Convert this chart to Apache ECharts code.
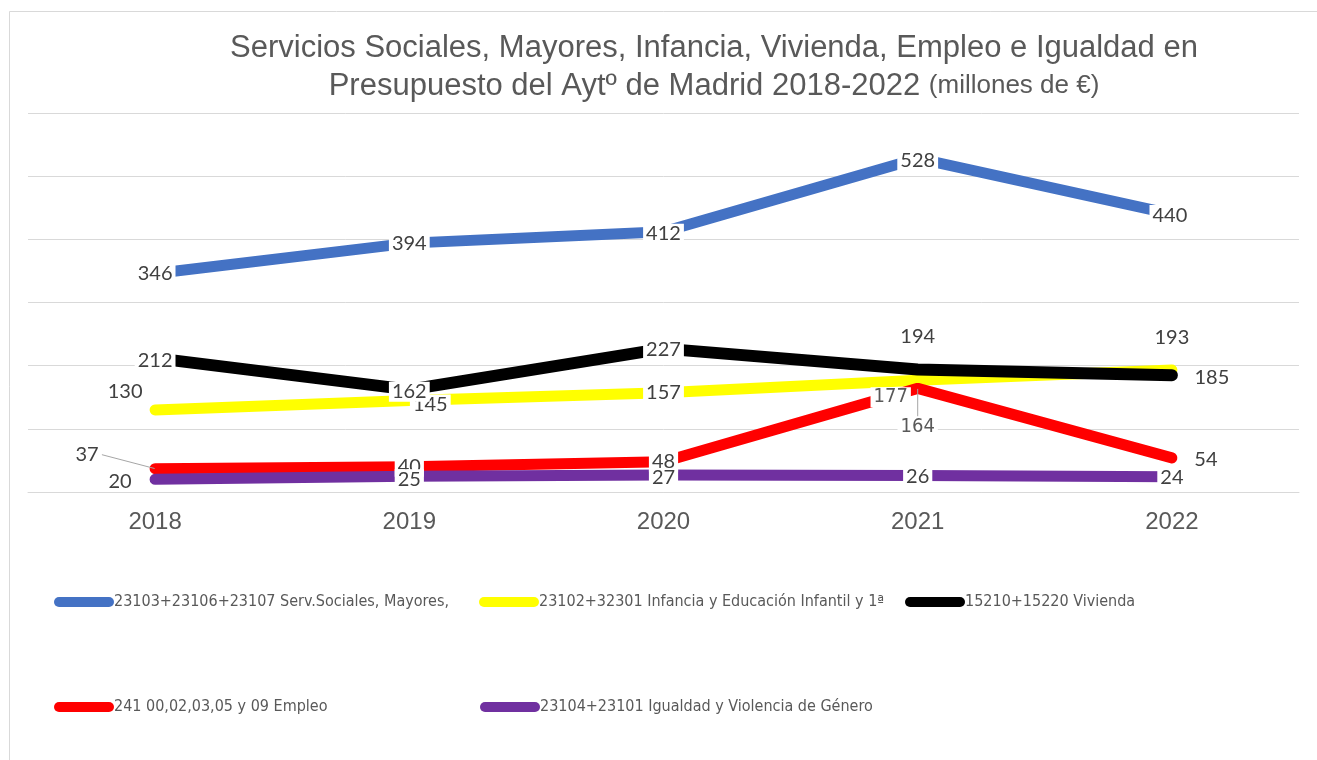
<!DOCTYPE html>
<html>
<head>
<meta charset="utf-8">
<script src="https://cdn.jsdelivr.net/npm/echarts@6/dist/echarts.min.js"></script>
<style>
html,body{margin:0;padding:0;background:#fff;}
#chart{width:1317px;height:760px;}
</style>
</head>
<body>
<div id="chart"></div>
<script>
// ---- data ----
const years = ['2018', '2019', '2020', '2021', '2022'];
const seriesNames = [
  '23103+23106+23107 Serv.Sociales, Mayores,',
  '23102+32301 Infancia y Educación Infantil y 1ª',
  '15210+15220 Vivienda',
  '241 00,02,03,05 y 09 Empleo',
  '23104+23101 Igualdad y Violencia de Género'
];
const servSociales = [346, 394, 412, 528, 440];
const infancia = [130, 145, 157, 177, 193];
const vivienda = [212, 162, 227, 194, 185];
const empleo = [37, 40, 48, 164, 54];
const igualdad = [20, 25, 27, 26, 24];
const yTicks = [0, 100, 200, 300, 400, 500, 600];

// ---- label placement (separate from data) ----
const labelShift = [
  [[0, 0], [0, 0], [0, 2], [0, 2], [-2, 1]],
  [[-30, -18], [21, 4], [0, 0], [-27, 17], [0, -33]],
  [[0, 2], [0, 2], [0, 1], [0, -33], [40, 2]],
  [[-68, -14], [0, 0], [0, 0], [0, 38], [34, 2]],
  [[-35, 2], [0, 3], [0, 3], [0, 1], [0, 1]]
];
const narrowLabels = { '1-3': true, '3-3': true };
const leaderLabels = { '3-0': true, '3-3': true };

const colors = ['#4472C4', '#FFFF00', '#000000', '#FF0000', '#7030A0'];
const widths = [11, 11, 12, 11, 11];
const values = [servSociales, infancia, vivienda, empleo, igualdad];

const NARROW = "'DejaVu Sans Condensed','Liberation Sans',sans-serif";
const ARIAL = "'Liberation Sans',Arial,sans-serif";
const LABELFONT = "Lato,'Open Sans',sans-serif";

// line series (no labels)
const lineSeries = values.map((vals, si) => ({
  name: seriesNames[si],
  type: 'line',
  data: vals,
  z: 2,
  symbol: 'none',
  itemStyle: { color: colors[si] },
  lineStyle: { color: colors[si], width: widths[si], cap: 'round', join: 'round' },
  label: { show: false },
  emphasis: { disabled: true }
}));

// label series drawn on top of all lines (same data, invisible line)
const labelSeries = values.map((vals, si) => ({
  name: 'labels-' + si,
  type: 'line',
  data: vals.map((v, di) => {
    const key = si + '-' + di;
    const item = { value: v };
    if (narrowLabels[key]) {
      item.label = { fontFamily: NARROW, fontSize: 20, color: '#595959' };
    }
    if (leaderLabels[key]) {
      item.labelLine = { show: true, lineStyle: { color: '#a6a6a6', width: 1 } };
    }
    return item;
  }),
  z: 5 + si,
  symbol: 'circle',
  symbolSize: 1,
  showSymbol: true,
  itemStyle: { color: 'rgba(0,0,0,0)' },
  lineStyle: { width: 0, opacity: 0 },
  label: {
    show: true,
    position: 'inside',
    fontFamily: LABELFONT,
    fontSize: 20,
    lineHeight: 20,
    color: '#404040',
    backgroundColor: '#ffffff',
    padding: [0, 3]
  },
  labelLine: { show: false },
  labelLayout: function (p) {
    const s = labelShift[si][p.dataIndex];
    return { dx: s[0], dy: s[1] };
  },
  emphasis: { disabled: true },
  silent: true
}));

// legend positions
const legendPos = [[54, 594], [479, 594], [905, 594], [54, 699], [480, 699]];
const capsule = 'path://M5,0 L55,0 A5,5 0 0 1 55,10 L5,10 A5,5 0 0 1 5,0 Z';
const legends = seriesNames.map((n, i) => ({
  data: [n],
  left: legendPos[i][0],
  top: legendPos[i][1],
  padding: 0,
  icon: capsule,
  itemWidth: 60,
  itemHeight: 10,
  selectedMode: false,
  textStyle: { fontFamily: NARROW, fontSize: 16, color: '#595959', padding: [0, 0, 0, -5] }
}));

const chart = echarts.init(document.getElementById('chart'), null, { renderer: 'canvas' });
chart.setOption({
  animation: false,
  backgroundColor: '#ffffff',
  title: {
    text: 'Servicios Sociales, Mayores, Infancia, Vivienda, Empleo e Igualdad en\nPresupuesto del Aytº de Madrid 2018-2022 {s|(millones de €)}',
    left: 709,
    top: 24,
    textAlign: 'center',
    textStyle: {
      fontFamily: ARIAL,
      fontSize: 31,
      fontWeight: 'normal',
      color: '#595959',
      lineHeight: 38,
      rich: { s: { fontFamily: ARIAL, fontSize: 26, color: '#595959', lineHeight: 38 } }
    }
  },
  graphic: [{
    type: 'rect',
    shape: { x: 9.5, y: 11.5, width: 1400, height: 800 },
    style: { fill: 'none', stroke: '#d9d9d9', lineWidth: 1 },
    silent: true,
    z: -1
  }],
  legend: legends,
  grid: { left: 28, right: 18, top: 113, bottom: 268, containLabel: false },
  xAxis: {
    type: 'category',
    data: years,
    boundaryGap: true,
    axisLine: { show: true, lineStyle: { color: '#d9d9d9', width: 1 } },
    axisTick: { show: false },
    axisLabel: { fontFamily: ARIAL, fontSize: 24, color: '#595959', margin: 18 }
  },
  yAxis: {
    type: 'value',
    min: yTicks[0],
    max: yTicks[yTicks.length - 1],
    interval: yTicks[1] - yTicks[0],
    axisLabel: { show: false },
    axisLine: { show: false },
    axisTick: { show: false },
    splitLine: { lineStyle: { color: '#d9d9d9', width: 1 } }
  },
  series: lineSeries.concat(labelSeries)
});
</script>
</body>
</html>
